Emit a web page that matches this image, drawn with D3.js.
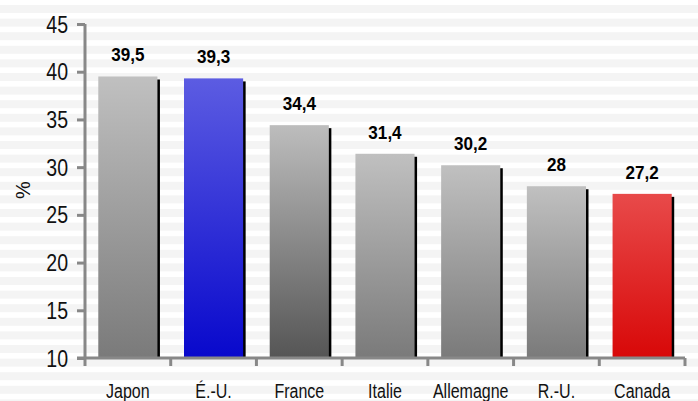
<!DOCTYPE html>
<html>
<head>
<meta charset="utf-8">
<script src="https://cdn.jsdelivr.net/npm/d3@7"></script>
<style>
  body { margin: 0; background: #fff; }
  svg { display: block; }
  text { font-family: "Liberation Sans", Arial, sans-serif; }
</style>
</head>
<body>
<svg id="chart" width="698" height="401"></svg>
<script>
// data
const countries = ["Japon", "É.-U.", "France", "Italie", "Allemagne", "R.-U.", "Canada"];
const values = [39.5, 39.3, 34.4, 31.4, 30.2, 28, 27.2];
const valueLabels = ["39,5", "39,3", "34,4", "31,4", "30,2", "28", "27,2"];
const yTicks = [10, 15, 20, 25, 30, 35, 40, 45];

// styles per bar: [top colour, bottom colour]
const barStyles = {
  "É.-U.": ["#5c5ce2", "#0808cc"],
  "Canada": ["#e84a4a", "#d80808"],
  "France": ["#bdbdbd", "#555555"]
};
const defaultStyle = ["#c0c0c0", "#7a7a7a"];

const W = 698, H = 401;
const margin = {left: 85, right: 13, top: 24, bottom: 43};
const svg = d3.select("#chart");

// striped background
const bg = svg.append("g");
for (let y = 5; y < H; y += 13.6) {
  bg.append("rect").attr("x", 0).attr("y", y).attr("width", W).attr("height", 8).attr("fill", "#f4f4f4");
}

const x = d3.scaleBand().domain(countries).range([margin.left, W - margin.right]).paddingInner(0.31).paddingOuter(0.155);
const y = d3.scaleLinear().domain([10, 45]).range([H - margin.bottom, margin.top]);

const defs = svg.append("defs");
countries.forEach((c, i) => {
  const st = barStyles[c] || defaultStyle;
  const g = defs.append("linearGradient").attr("id", "grad" + i).attr("x1", 0).attr("y1", 0).attr("x2", 0).attr("y2", 1);
  g.append("stop").attr("offset", "0%").attr("stop-color", st[0]);
  g.append("stop").attr("offset", "100%").attr("stop-color", st[1]);
});

// shadows
svg.append("g").selectAll("rect").data(values).enter().append("rect")
  .attr("x", (d, i) => x(countries[i]) + 2.5)
  .attr("y", d => y(d) + 3)
  .attr("width", x.bandwidth())
  .attr("height", d => y(10) - y(d) - 3)
  .attr("fill", "#000");

// bars
svg.append("g").selectAll("rect").data(values).enter().append("rect")
  .attr("x", (d, i) => x(countries[i]))
  .attr("y", d => y(d))
  .attr("width", x.bandwidth())
  .attr("height", d => y(10) - y(d))
  .attr("fill", (d, i) => "url(#grad" + i + ")");

// value labels
svg.append("g").selectAll("text").data(values).enter().append("text")
  .attr("transform", (d, i) => "translate(" + (x(countries[i]) + x.bandwidth() / 2) + "," + (y(d) - 15) + ") scale(0.95,1)")
  .attr("text-anchor", "middle")
  .attr("font-size", 18)
  .attr("font-weight", "bold")
  .attr("fill", "#000")
  .text((d, i) => valueLabels[i]);

// y axis
const yAxis = svg.append("g").attr("transform", "translate(" + margin.left + ",0)")
  .call(d3.axisLeft(y).tickValues(yTicks).tickSize(8).tickPadding(8).tickFormat(d3.format("d")));
yAxis.select(".domain").attr("stroke", "#888").attr("stroke-width", 3).attr("d", "M0," + y(45) + "V" + y(10));
yAxis.selectAll(".tick line").attr("stroke", "#888").attr("stroke-width", 3);
yAxis.selectAll(".tick text")
  .attr("x", null).attr("dy", null)
  .attr("transform", "translate(-17,8) scale(0.85,1)")
  .attr("font-size", 23).attr("fill", "#111")
  .attr("font-family", "'Liberation Sans', Arial, sans-serif");

// x axis
const bounds = [margin.left].concat(countries.map(c => x(c) + x.bandwidth() + x.step() * x.paddingInner() / 2));
const xAxis = svg.append("g").attr("transform", "translate(0," + y(10) + ")");
xAxis.append("line").attr("x1", margin.left - 8).attr("x2", W - margin.right).attr("y1", 0).attr("y2", 0)
  .attr("stroke", "#888").attr("stroke-width", 3);
xAxis.selectAll(".xt").data(bounds).enter().append("line")
  .attr("x1", d => d).attr("x2", d => d).attr("y1", 0).attr("y2", 8)
  .attr("stroke", "#888").attr("stroke-width", 3);
xAxis.selectAll(".xl").data(countries).enter().append("text")
  .attr("transform", d => "translate(" + (x(d) + x.bandwidth() / 2) + ",40) scale(0.8,1)")
  .attr("text-anchor", "middle")
  .attr("font-size", 20)
  .attr("fill", "#111")
  .text(d => d);

// y label
svg.append("text")
  .attr("transform", "translate(30,190) rotate(-90)")
  .attr("text-anchor", "middle")
  .attr("font-size", 20)
  .attr("fill", "#111")
  .text("%");
</script>
</body>
</html>
